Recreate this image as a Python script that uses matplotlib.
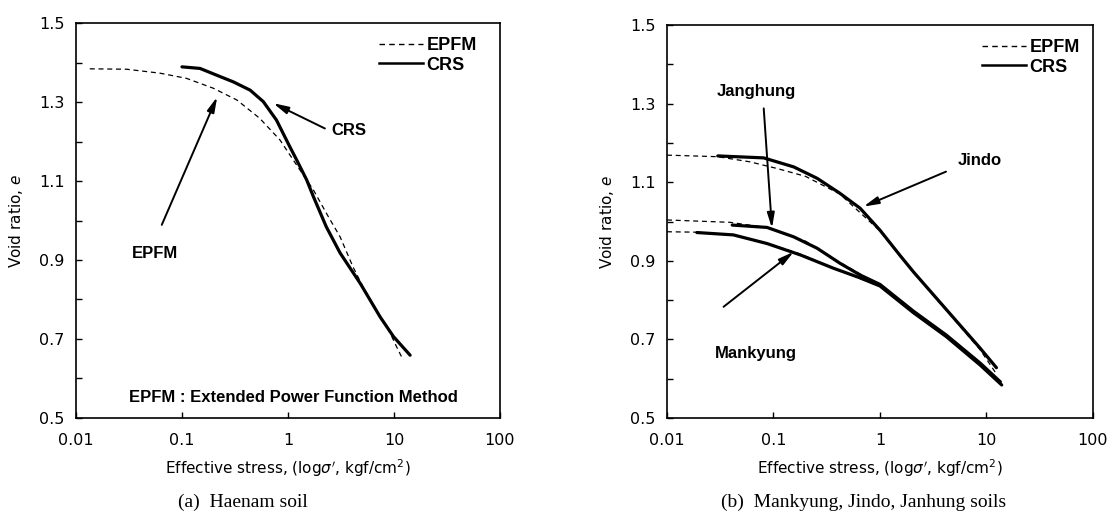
import matplotlib
matplotlib.use("Agg")
import matplotlib.pyplot as plt
from matplotlib.lines import Line2D

# ---- data (stress in kgf/cm2, void ratio e) ----
# (a) Haenam soil
haenam_epfm_x = [0.0135, 0.03, 0.062, 0.11, 0.197, 0.33, 0.54, 0.84, 1.21, 1.74, 2.4, 3.1, 4.1, 5.1, 7.4, 9.2, 10.6, 12.2]
haenam_epfm_e = [1.384, 1.383, 1.373, 1.360, 1.335, 1.305, 1.259, 1.204, 1.140, 1.077, 1.010, 0.959, 0.883, 0.832, 0.758, 0.715, 0.680, 0.647]
haenam_crs_x = [0.1, 0.148, 0.212, 0.305, 0.44, 0.585, 0.78, 1.04, 1.21, 1.5, 1.74, 2.3, 3.1, 4.8, 7.4, 9.9, 14.2]
haenam_crs_e = [1.389, 1.385, 1.368, 1.351, 1.330, 1.301, 1.254, 1.187, 1.153, 1.103, 1.060, 0.984, 0.918, 0.841, 0.756, 0.706, 0.659]

# (b) Mankyung, Jindo, Janghung soils
jindo_epfm_x = [0.01, 0.03, 0.06, 0.108, 0.2, 0.42, 1.0, 2.06, 4.2, 8.7, 12.2]
jindo_epfm_e = [1.169, 1.165, 1.152, 1.135, 1.115, 1.070, 0.976, 0.870, 0.774, 0.674, 0.615]
jindo_crs_x = [0.03, 0.081, 0.155, 0.257, 0.42, 0.65, 1.0, 1.55, 2.06, 4.2, 8.7, 12.4]
jindo_crs_e = [1.167, 1.162, 1.139, 1.110, 1.072, 1.034, 0.978, 0.913, 0.872, 0.776, 0.678, 0.628]

janghung_epfm_x = [0.01, 0.039, 0.09, 0.2, 0.42, 1.0, 2.06, 4.2, 8.7, 13.0]
janghung_epfm_e = [1.004, 0.998, 0.984, 0.950, 0.896, 0.838, 0.770, 0.709, 0.637, 0.595]
janghung_crs_x = [0.041, 0.087, 0.155, 0.257, 0.42, 0.65, 1.0, 2.06, 4.2, 8.7, 13.5]
janghung_crs_e = [0.991, 0.985, 0.961, 0.932, 0.894, 0.864, 0.840, 0.772, 0.711, 0.640, 0.592]

mankyung_epfm_x = [0.01, 0.018, 0.042, 0.087, 0.179, 0.367, 1.0, 2.06, 4.2, 8.7, 13.5]
mankyung_epfm_e = [0.974, 0.973, 0.965, 0.945, 0.917, 0.882, 0.835, 0.767, 0.706, 0.634, 0.590]
mankyung_crs_x = [0.0191, 0.042, 0.087, 0.179, 0.367, 0.63, 1.0, 2.06, 4.2, 8.7, 13.9]
mankyung_crs_e = [0.972, 0.966, 0.944, 0.915, 0.881, 0.858, 0.836, 0.768, 0.707, 0.635, 0.584]

xticks = [0.01, 0.1, 1, 10, 100]
xtick_labels = ["0.01", "0.1", "1", "10", "100"]
yticks = [0.5, 0.6, 0.7, 0.8, 0.9, 1.0, 1.1, 1.2, 1.3, 1.4, 1.5]
ytick_labels = ["0.5", "", "0.7", "", "0.9", "", "1.1", "", "1.3", "", "1.5"]

SANS = "DejaVu Sans"
BOLD = "Liberation Sans"

fig = plt.figure(figsize=(11.17, 5.17), dpi=100)
ax_a = fig.add_axes([0.0680, 0.1915, 0.3796, 0.7640])
ax_b = fig.add_axes([0.5971, 0.1915, 0.3814, 0.7600])

dash = (4, 3)


def style_axes(ax):
    ax.set_xscale("log")
    ax.set_xlim(0.01, 100)
    ax.set_ylim(0.5, 1.5)
    ax.set_xticks(xticks)
    ax.set_xticklabels(xtick_labels, fontsize=11.5, family=SANS)
    ax.minorticks_off()
    ax.set_yticks(yticks)
    ax.set_yticklabels(ytick_labels, fontsize=11.5, family=SANS)
    ax.tick_params(direction="in", length=4, width=1, top=False, right=False)
    ax.tick_params(axis="x", pad=11)
    ax.tick_params(axis="y", pad=8)
    for s in ax.spines.values():
        s.set_linewidth(1.2)
    ax.set_xlabel(r"Effective stress, (log$\sigma'$, kgf/cm$^2$)", fontsize=11, family=SANS)
    ax.xaxis.set_label_coords(0.5, -0.127)
    ax.xaxis.label.set_va("center")
    ax.set_ylabel(r"Void ratio, $e$", fontsize=11, family=SANS)
    ax.yaxis.set_label_coords(-0.141, 0.5)
    ax.yaxis.label.set_va("center")


def add_legend(ax, x_anchor):
    handles = [Line2D([], [], color="black", lw=1.0, dashes=dash),
               Line2D([], [], color="black", lw=1.8)]
    ax.legend(handles, ["EPFM", "CRS"], loc="upper right", bbox_to_anchor=(x_anchor, 0.965),
              frameon=False, handlelength=2.4, handletextpad=0.2, labelspacing=0.15,
              borderaxespad=0, borderpad=0,
              prop={"family": BOLD, "weight": "bold", "size": 13})


def arrow(ax, text, tail, head, label_xy, ha="center"):
    ax.annotate("", xy=head, xytext=tail,
                arrowprops=dict(arrowstyle="-|>,head_length=0.9,head_width=0.22",
                                color="black", lw=1.4, shrinkA=0, shrinkB=0))
    ax.text(label_xy[0], label_xy[1], text, ha=ha, va="center",
            family=BOLD, weight="bold", fontsize=12)


# (a)
style_axes(ax_a)
ax_a.plot(haenam_epfm_x, haenam_epfm_e, color="black", lw=0.9, dashes=dash)
ax_a.plot(haenam_crs_x, haenam_crs_e, color="black", lw=2.3, solid_capstyle="round")
add_legend(ax_a, 0.945)
arrow(ax_a, "EPFM", (0.0645, 0.989), (0.215, 1.313), (0.0556, 0.917))
arrow(ax_a, "CRS", (2.23, 1.233), (0.726, 1.297), (2.55, 1.227), ha="left")
ax_a.text(0.514, 0.051, "EPFM : Extended Power Function Method", transform=ax_a.transAxes,
          ha="center", va="center", family=BOLD, weight="bold", fontsize=12)

# (b)
style_axes(ax_b)
for xs, es in [(jindo_epfm_x, jindo_epfm_e), (janghung_epfm_x, janghung_epfm_e),
               (mankyung_epfm_x, mankyung_epfm_e)]:
    ax_b.plot(xs, es, color="black", lw=0.9, dashes=dash)
for xs, es in [(jindo_crs_x, jindo_crs_e), (janghung_crs_x, janghung_crs_e),
               (mankyung_crs_x, mankyung_crs_e)]:
    ax_b.plot(xs, es, color="black", lw=2.3, solid_capstyle="round")
add_legend(ax_b, 0.969)
arrow(ax_b, "Jindo", (4.17, 1.127), (0.70, 1.038), (5.4, 1.156), ha="left")
arrow(ax_b, "Janghung", (0.081, 1.288), (0.0968, 0.983), (0.0686, 1.330))
arrow(ax_b, "Mankyung", (0.034, 0.783), (0.155, 0.923), (0.0686, 0.665))

# captions
fig.text(0.2175, 0.029, "(a)  Haenam soil", ha="center", va="center",
         family="Liberation Serif", fontsize=14)
fig.text(0.7735, 0.029, "(b)  Mankyung, Jindo, Janhung soils", ha="center", va="center",
         family="Liberation Serif", fontsize=14)

fig.savefig("out.png", dpi=100)
